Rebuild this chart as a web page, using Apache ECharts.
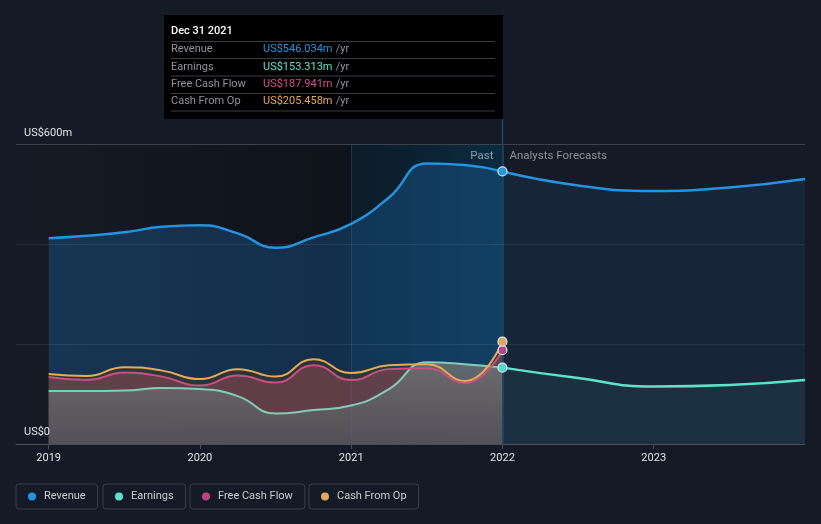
<!DOCTYPE html>
<html>
<head>
<meta charset="utf-8">
<script src="https://cdn.jsdelivr.net/npm/echarts@6/dist/echarts.min.js"></script>
<style>
html,body{margin:0;padding:0;background:#151b26;}
#c{width:821px;height:524px;}
</style>
</head>
<body>
<div id="c"></div>
<script>
// ---- data (US$ millions) ----
const pastX = [2019, 2019.25, 2019.5, 2019.75, 2020, 2020.25, 2020.5, 2020.75, 2021, 2021.25, 2021.5, 2021.75, 2022];
const revenuePast  = [412, 417, 424, 435, 438, 422, 393, 414, 441, 494, 562, 559, 546];
const earningsPast = [106, 106, 107, 112, 110, 96, 61, 68, 77, 110, 164, 160, 153];
const fcfPast      = [134, 128, 143, 135, 117, 137, 123, 158, 128, 150, 152, 122, 188];
const cfoPast      = [140, 136, 154, 147, 130, 150, 135, 170, 142, 158, 160, 126, 205];
const forecastX = [2022, 2022.5, 2023, 2023.5, 2024];
const revenueForecast  = [546, 518, 507, 514, 531];
const earningsForecast = [153, 132, 115, 118, 128];
const xTicks = [2019, 2020, 2021, 2022, 2023];
const xTickLabels = ['2019', '2020', '2021', '2022', '2023'];
const yTicks = [0, 600];
const yTickLabels = ['US$0', 'US$600m'];
const legendNames = ['Revenue', 'Earnings', 'Free Cash Flow', 'Cash From Op'];
const tipTitle = 'Dec 31 2021';
const tipValues = ['US$546.034m', 'US$153.313m', 'US$187.941m', 'US$205.458m'];

const X_MIN = 2018.784, X_MAX = 2024;
const COL = {rev:'#2394df', earn:'#5de3cc', earnPast:'#86cbb6', fcf:'#c9517f', cfo:'#e6ac55'};
const zip = (xs, ys) => xs.map((x, i) => [x, ys[i]]);
const SM = 0.5;

function areaS(name, xs, ys, fill, z) {
  return {type:'line', name, data: zip(xs, ys), smooth: SM, showSymbol:false,
    lineStyle:{width:0, opacity:0}, areaStyle:{color:fill, opacity:1}, z, silent:true, animation:false};
}
function lineS(name, xs, ys, color, width, z) {
  return {type:'line', name, data: zip(xs, ys), smooth: SM, showSymbol:false,
    lineStyle:{width, color}, itemStyle:{color}, z, silent:true, animation:false};
}
const grad = (a, b) => new echarts.graphic.LinearGradient(0, 0, 0, 1, [{offset:0,color:a},{offset:1,color:b}]);
const hgrad = (a, b) => new echarts.graphic.LinearGradient(0, 0, 1, 0, [{offset:0,color:a},{offset:1,color:b}]);

const chart = echarts.init(document.getElementById('c'), null, {renderer:'canvas'});

const legendLefts = [16, 103, 190, 309];
const legendColors = [COL.rev, COL.earn, '#c0407f', '#e0a860'];

const option = {
  backgroundColor:'#151b26',
  animation:false,
  textStyle:{fontFamily:'Roboto'},
  grid:{left:16, right:16, top:144.5, bottom:80, containLabel:false},
  xAxis:{type:'value', min:X_MIN, max:X_MAX, z:4,
    axisLine:{show:true, lineStyle:{color:'#4a5058', width:1}},
    axisTick:{show:true, customValues:xTicks, length:5, lineStyle:{color:'#4a5058'}},
    axisLabel:{customValues:xTicks, color:'#e0e3e8', fontSize:11, margin:9,
      formatter:(v)=>xTickLabels[xTicks.indexOf(Math.round(v))] || ''},
    splitLine:{show:false}},
  yAxis:{type:'value', min:0, max:600, interval:200, z:4,
    axisLine:{show:false}, axisTick:{show:false},
    axisLabel:{inside:true, customValues:yTicks, color:'#e0e3e8', fontSize:11, margin:8,
      verticalAlign:'bottom', padding:[0,0,6,0],
      formatter:(v)=>yTickLabels[yTicks.indexOf(v)] || ''},
    splitLine:{show:true, lineStyle:{color:['rgba(0,0,0,0)','rgba(140,160,185,0.14)','rgba(140,160,185,0.14)','#3c434d'], width:1}}},
  legend: legendNames.map((n, i) => ({
    data:[{name:n, itemStyle:{color:legendColors[i]}}],
    left:legendLefts[i], top:484, orient:'horizontal',
    icon:'circle', itemWidth:8, itemHeight:8,
    padding:[7,12,7,12], borderColor:'#3a414b', borderWidth:1, borderRadius:3,
    textStyle:{color:'#c8ccd2', fontSize:11, padding:[0,0,0,3]},
    selectedMode:false
  })),
  series:[
    {type:'line', name:'_bands', data:[], silent:true, z:1,
      markArea:{silent:true, label:{show:false}, data:[
        [{xAxis:X_MIN, itemStyle:{color:hgrad('rgba(0,0,0,0)','rgba(0,0,0,0.32)')}}, {xAxis:2021}],
        [{xAxis:2021, itemStyle:{color:hgrad('rgba(0,28,40,0.45)','rgba(0,60,90,0.5)')}}, {xAxis:2022}]
      ]},
      markLine:{silent:true, symbol:'none', label:{show:false}, z:5, data:[
        {xAxis:2021, lineStyle:{color:'rgba(70,110,130,0.35)', width:1, type:'solid'}},
        {xAxis:2022, lineStyle:{color:'#1a4d63', width:1.5, type:'solid'}}
      ]}},
    areaS('Revenue', pastX, revenuePast, 'rgba(30,110,180,0.32)', 2),
    areaS('Revenue', forecastX, revenueForecast, 'rgba(30,110,180,0.13)', 2),
    areaS('Earnings', forecastX, earningsForecast, 'rgba(90,190,190,0.08)', 2),
    areaS('Cash From Op', pastX, cfoPast, 'rgba(70,60,30,0.45)', 2),
    areaS('Free Cash Flow', pastX, fcfPast, 'rgba(190,80,100,0.36)', 2),
    areaS('Earnings', pastX, earningsPast, grad('rgba(112,116,114,0.82)','rgba(80,84,92,0.78)'), 2),
    lineS('Revenue', pastX, revenuePast, COL.rev, 2.5, 6),
    lineS('Revenue', forecastX, revenueForecast, COL.rev, 2.5, 6),
    lineS('Earnings', pastX, earningsPast, COL.earnPast, 2, 6),
    lineS('Earnings', forecastX, earningsForecast, COL.earn, 2.5, 6),
    lineS('Cash From Op', pastX, cfoPast, COL.cfo, 2, 6),
    lineS('Free Cash Flow', pastX, fcfPast, COL.fcf, 2, 6),
    {type:'scatter', name:'_ends', silent:true, z:10, symbolSize:9,
      data:[
        {value:[pastX[12], revenuePast[12]], itemStyle:{color:COL.rev}},
        {value:[pastX[12], earningsPast[12]], itemStyle:{color:'#4fd8cc'}},
        {value:[pastX[12], fcfPast[12]], itemStyle:{color:'#b8458a'}},
        {value:[pastX[12], cfoPast[12]], itemStyle:{color:'#d9aa5a'}}
      ],
      itemStyle:{borderColor:'#dfe6ee', borderWidth:1.2, opacity:1}}
  ]
};
chart.setOption(option);

// ---- overlays: tooltip box, past/forecast labels ----
const x22 = chart.convertToPixel({xAxisIndex:0}, 2022);
const yTop = chart.convertToPixel({yAxisIndex:0}, 600);
const rowLabels = ['Revenue', 'Earnings', 'Free Cash Flow', 'Cash From Op'];
const rowColors = ['#2394df', '#5de3cc', '#d4508a', '#e8aa50'];
const tipLeft = 164, tipTop = 15, tipRight = x22 + 0.5, tipBottom = 119;
const g = [];
g.push({type:'line', shape:{x1:x22, y1:tipBottom, x2:x22, y2:yTop}, style:{stroke:'#1a4d63', lineWidth:1.5}, silent:true});
g.push({type:'rect', shape:{x:tipLeft, y:tipTop, width:tipRight - tipLeft, height:tipBottom - tipTop}, style:{fill:'#000000'}, silent:true});
g.push({type:'text', x:171, y:31, style:{text:tipTitle, fill:'#ffffff', font:'500 11px Roboto', verticalAlign:'middle'}, silent:true});
const rowY = [49.5, 67, 84.5, 101.5];
const sepY = [41.5, 58.5, 76, 93.5, 111];
sepY.forEach(y => g.push({type:'line', shape:{x1:171, y1:y, x2:495, y2:y}, style:{stroke:'#3a3d42', lineWidth:1}, silent:true}));
rowLabels.forEach((l, i) => {
  g.push({type:'text', x:171, y:rowY[i], style:{text:l, fill:'#8f949b', font:'11px Roboto', verticalAlign:'middle'}, silent:true});
  g.push({type:'text', x:263, y:rowY[i], style:{
    text:'{v|' + tipValues[i] + '} {u|/yr}', verticalAlign:'middle',
    rich:{v:{fill:rowColors[i], font:'11px Roboto'}, u:{fill:'#8f949b', font:'11px Roboto'}}}, silent:true});
});
g.push({type:'text', x:x22 - 9, y:156, style:{text:'Past', fill:'#ffffff', font:'11.5px Roboto', align:'right', verticalAlign:'middle'}, silent:true});
g.push({type:'text', x:x22 + 7, y:156, style:{text:'Analysts Forecasts', fill:'#8c929a', font:'11.5px Roboto', align:'left', verticalAlign:'middle'}, silent:true});
chart.setOption({graphic:{elements:g}});
</script>
</body>
</html>
